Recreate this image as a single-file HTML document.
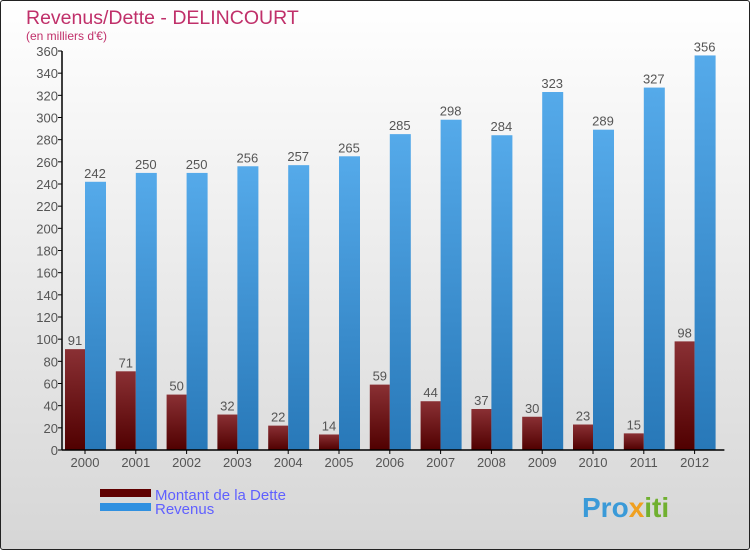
<!DOCTYPE html>
<html><head><meta charset="utf-8"><style>
html,body{margin:0;padding:0}
body{width:750px;height:550px;overflow:hidden;font-family:"Liberation Sans",sans-serif}
#wrap{position:absolute;left:0;top:0;width:748px;height:548px;border:1px solid #222;background:linear-gradient(#ffffff,#d6d6d6);border-radius:3px}
</style></head><body>
<div id="wrap">
<svg id="c" width="750" height="550" style="position:absolute;left:-1px;top:-1px">
<defs>
<linearGradient id="gr" x1="0" y1="0" x2="0" y2="1"><stop offset="0" stop-color="#8a3034"/><stop offset="1" stop-color="#500000"/></linearGradient>
<linearGradient id="gb" x1="0" y1="0" x2="0" y2="1"><stop offset="0" stop-color="#55aaea"/><stop offset="1" stop-color="#2878b8"/></linearGradient>
</defs>
<text x="26" y="24" font-size="19.5" fill="#c0306a">Revenus/Dette - DELINCOURT</text>
<text x="26" y="40" font-size="12" fill="#c0306a">(en milliers d'€)</text>
<g id="g"></g>
<rect x="100" y="489" width="51" height="8" fill="#600000"/>
<rect x="100" y="503" width="51" height="8" fill="#3090e0"/>
<text x="155" y="500" font-size="15" fill="#6060ff">Montant de la Dette</text>
<text x="155" y="514" font-size="15" fill="#6060ff">Revenus</text>
<text x="582" y="517" font-size="28" font-weight="bold" fill="#3a9ad8">Pro<tspan fill="#f0a020">x</tspan><tspan fill="#70b030">iti</tspan></text>
</svg>
</div>
<script>
const years=["2000","2001","2002","2003","2004","2005","2006","2007","2008","2009","2010","2011","2012"];
const dette=[91,71,50,32,22,14,59,44,37,30,23,15,98];
const revenus=[242,250,250,256,257,265,285,298,284,323,289,327,356];
const ticks=[0,20,40,60,80,100,120,140,160,180,200,220,240,260,280,300,320,340,360];
const NS="http://www.w3.org/2000/svg";
const g=document.getElementById('g');
const x0=62,y0=450,step=50.8,ymax=360,h=399;
const y=v=>y0-v/ymax*h;
function mk(t,a){const e=document.createElementNS(NS,t);for(const k in a)e.setAttribute(k,a[k]);g.appendChild(e);return e;}
ticks.forEach(t=>{
  const l=mk('line',{x1:x0-4,x2:x0,y1:y(t),y2:y(t),stroke:'#000'});
  
  
  const tx=mk('text',{x:x0-4,y:y(t)+5,'font-size':13,'text-anchor':'end',fill:'#555'});
  tx.textContent=t;
  
  
});
years.forEach((yr,i)=>{
  const gx=x0+3+i*step;
  const r=mk('rect',{x:gx,y:y(dette[i]),width:20,height:y0-y(dette[i]),fill:'url(#gr)'});
  
  
  const b=mk('rect',{x:gx+20,y:y(revenus[i]),width:21,height:y0-y(revenus[i]),fill:'url(#gb)'});
  
  
  const t1=mk('text',{x:gx+10,y:y(dette[i])-4,'font-size':13,'text-anchor':'middle',fill:'#555'});
  t1.textContent=dette[i];
  
  
  const t2=mk('text',{x:gx+30,y:y(revenus[i])-4,'font-size':13,'text-anchor':'middle',fill:'#555'});
  t2.textContent=revenus[i];
  
  
  const xl=mk('text',{x:gx+20,y:467,'font-size':13,'text-anchor':'middle',fill:'#555'});
  xl.textContent=yr;
  
  
  const xt=mk('line',{x1:gx+20,x2:gx+20,y1:y0,y2:y0+4,stroke:'#000'});
  
  
});
const ya=mk('line',{x1:x0,x2:x0,y1:y(360),y2:y0,stroke:'#000','stroke-width':1.5});


const xa=mk('line',{x1:x0,x2:x0+13*step+2,y1:y0,y2:y0,stroke:'#000','stroke-width':1.5});


</script>
</body></html>
